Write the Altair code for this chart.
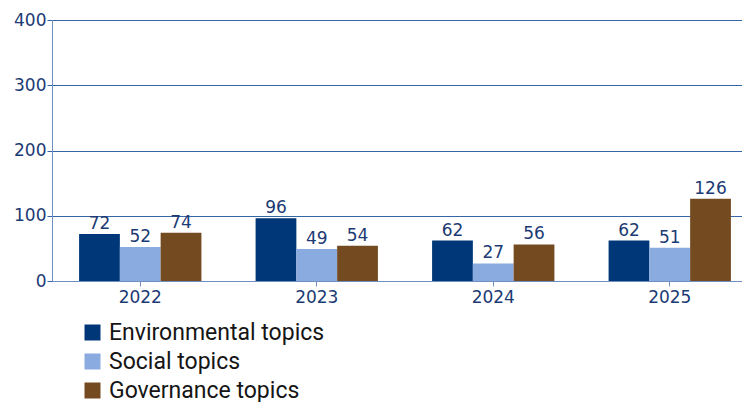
import altair as alt
import pandas as pd

years = ["2022", "2023", "2024", "2025"]
series = ["Environmental topics", "Social topics", "Governance topics"]
environmental = [72, 96, 62, 62]
social = [52, 49, 27, 51]
governance = [74, 54, 56, 126]
colors = ["#003778", "#8aabe0", "#744b20"]

rows = []
for i, y in enumerate(years):
    for s, vals in zip(series, [environmental, social, governance]):
        rows.append({"year": y, "series": s, "value": vals[i]})
df = pd.DataFrame(rows)

lab_color = "#1b3a73"
axis_font = "DejaVu Sans"
grid_color = "#3565a5"
domain_color = "#6f8fc0"

base = alt.Chart(df).encode(
    x=alt.X("year:N", sort=years, title=None,
            scale=alt.Scale(paddingInner=0.307, paddingOuter=0.1535,
                            range=[0, 706]),
            axis=alt.Axis(labelAngle=0, labelFont=axis_font, labelFontSize=17,
                          labelColor=lab_color, domainColor=domain_color,
                          tickColor=domain_color, tickSize=5, labelPadding=3,
                          grid=False)),
    xOffset=alt.XOffset("series:N", sort=series,
                        scale=alt.Scale(paddingInner=0, paddingOuter=0)),
)

bars = base.mark_bar().encode(
    y=alt.Y("value:Q", title=None,
            scale=alt.Scale(domain=[0, 400]),
            axis=alt.Axis(values=[0, 100, 200, 300, 400], labelFont=axis_font,
                          labelFontSize=17, labelColor=lab_color,
                          domainColor=domain_color, tickColor=grid_color,
                          tickSize=5, labelPadding=1,
                          gridColor=grid_color, gridWidth=1)),
    color=alt.Color("series:N", sort=series,
                    scale=alt.Scale(domain=series, range=colors),
                    legend=alt.Legend(title=None, orient="none", legendX=29,
                                      legendY=301, direction="vertical",
                                      symbolType="square", symbolSize=256,
                                      symbolStrokeWidth=0, symbolOpacity=1,
                                      labelFont="Roboto", labelFontSize=23,
                                      labelColor="#151515", labelOffset=5,
                                      labelLimit=0,
                                      rowPadding=5, padding=0)),
)

labels = base.mark_text(dy=-5, baseline="alphabetic", font=axis_font,
                        fontSize=17, color=lab_color).encode(
    y=alt.Y("value:Q"),
    text=alt.Text("value:Q"),
)

chart = alt.layer(bars, labels).properties(
    width=690, height=261,
    autosize=alt.AutoSizeParams(type="none"),
    padding={"left": 44, "top": 12, "right": 0, "bottom": 121},
).configure_view(stroke=None).configure_axis(domainWidth=1)

chart.save("out.html", embed_options={"renderer": "svg", "actions": False})
